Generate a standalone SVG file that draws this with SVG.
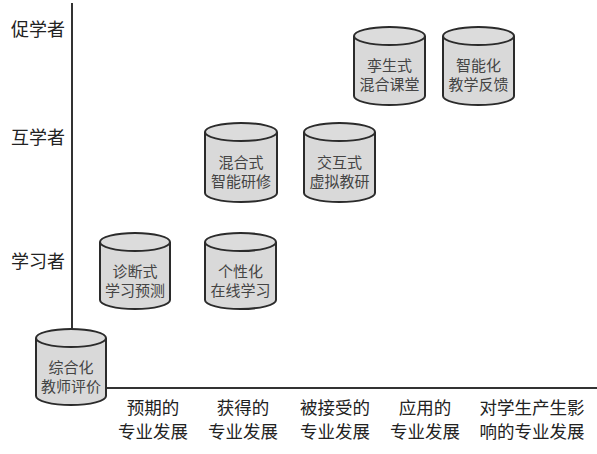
<svg xmlns="http://www.w3.org/2000/svg" width="597" height="454" viewBox="0 0 597 454">
<defs>
<style>
.cyl-body{fill:#d9d9d9;stroke:#2b2b2b;stroke-width:2}
.cyl-top{fill:#dcdcdc;stroke:#2b2b2b;stroke-width:2}
.ntext{font-family:"Noto Sans CJK SC","Liberation Serif",sans-serif;font-size:15px;fill:#444;text-anchor:middle}
.ylab{font-family:"Noto Sans CJK SC",sans-serif;font-size:18px;fill:#222;text-anchor:end}
.xlab{font-family:"Noto Sans CJK SC",sans-serif;font-size:17.5px;fill:#222;text-anchor:middle}
.axis{stroke:#333;stroke-width:2;fill:none}
</style>
</defs>
<rect width="597" height="454" fill="#fff"/>
<g id="axes">
<line class="axis" x1="72" y1="3" x2="72" y2="329"/>
<line class="axis" x1="106" y1="388" x2="597" y2="388" stroke="#555"/>
</g>
<g id="y-labels">
<text class="ylab" x="65" y="36">促学者</text>
<text class="ylab" x="65" y="144">互学者</text>
<text class="ylab" x="65" y="268">学习者</text>
</g>
<g id="x-labels">
<text class="xlab" x="153" y="414">预期的</text>
<text class="xlab" x="153" y="438">专业发展</text>
<text class="xlab" x="243" y="414">获得的</text>
<text class="xlab" x="243" y="438">专业发展</text>
<text class="xlab" x="335" y="414">被接受的</text>
<text class="xlab" x="335" y="438">专业发展</text>
<text class="xlab" x="425" y="414">应用的</text>
<text class="xlab" x="425" y="438">专业发展</text>
<text class="xlab" x="532" y="414">对学生产生影</text>
<text class="xlab" x="532" y="438">响的专业发展</text>
</g>
<g id="n-zonghe">
<path class="cyl-body" d="M36,338 V396 A35,9 0 0 0 106,396 V338"/>
<ellipse class="cyl-top" cx="71" cy="338" rx="35" ry="9"/>
<text class="ntext" x="71" y="373">综合化</text>
<text class="ntext" x="71" y="392">教师评价</text>
</g>
<g id="n-zhenduan">
<path class="cyl-body" d="M100,242 V300 A35,9 0 0 0 170,300 V242"/>
<ellipse class="cyl-top" cx="135" cy="242" rx="35" ry="9"/>
<text class="ntext" x="135" y="277">诊断式</text>
<text class="ntext" x="135" y="296">学习预测</text>
</g>
<g id="n-gexing">
<path class="cyl-body" d="M205,242 V300 A35.5,9 0 0 0 276,300 V242"/>
<ellipse class="cyl-top" cx="240.5" cy="242" rx="35.5" ry="9"/>
<text class="ntext" x="240.5" y="277">个性化</text>
<text class="ntext" x="240.5" y="296">在线学习</text>
</g>
<g id="n-hunhe">
<path class="cyl-body" d="M205,132 V193 A36,9 0 0 0 277,193 V132"/>
<ellipse class="cyl-top" cx="241" cy="132" rx="36" ry="9"/>
<text class="ntext" x="241" y="168">混合式</text>
<text class="ntext" x="241" y="187">智能研修</text>
</g>
<g id="n-jiaohu">
<path class="cyl-body" d="M304,132 V193 A35.5,9 0 0 0 375,193 V132"/>
<ellipse class="cyl-top" cx="339.5" cy="132" rx="35.5" ry="9"/>
<text class="ntext" x="339.5" y="168">交互式</text>
<text class="ntext" x="339.5" y="187">虚拟教研</text>
</g>
<g id="n-luansheng">
<path class="cyl-body" d="M354,36 V96 A35.5,9 0 0 0 425,96 V36"/>
<ellipse class="cyl-top" cx="389.5" cy="36" rx="35.5" ry="9"/>
<text class="ntext" x="389.5" y="71">孪生式</text>
<text class="ntext" x="389.5" y="90">混合课堂</text>
</g>
<g id="n-zhineng">
<path class="cyl-body" d="M443,36 V96 A35.5,9 0 0 0 514,96 V36"/>
<ellipse class="cyl-top" cx="478.5" cy="36" rx="35.5" ry="9"/>
<text class="ntext" x="478.5" y="71">智能化</text>
<text class="ntext" x="478.5" y="90">教学反馈</text>
</g>
</svg>
